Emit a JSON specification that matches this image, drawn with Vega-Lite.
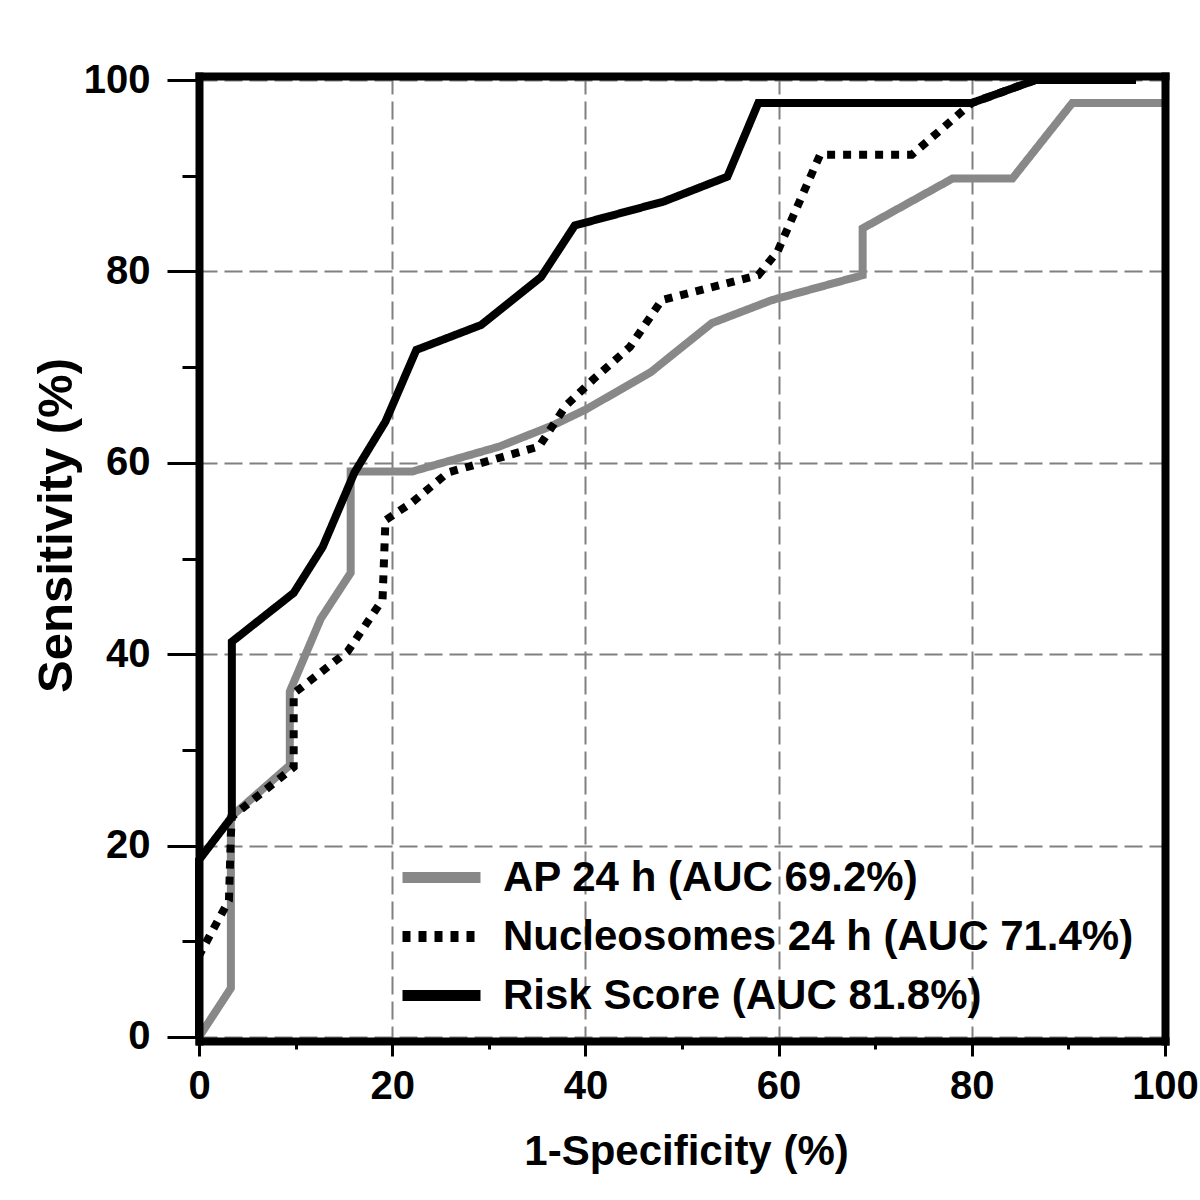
{
  "$schema": "https://vega.github.io/schema/vega-lite/v6.json",
  "width": 966,
  "height": 965,
  "autosize": {"type": "none"},
  "padding": {"left": 199, "top": 76, "right": 35, "bottom": 159},
  "background": "white",
  "config": {
    "view": {"stroke": null},
    "font": "Liberation Sans"
  },
  "data": {
    "values": [
      {"s": "AP 24 h (AUC 69.2%)", "i": 0, "x": 0, "y": 0},
      {"s": "AP 24 h (AUC 69.2%)", "i": 1, "x": 3.3, "y": 5.1},
      {"s": "AP 24 h (AUC 69.2%)", "i": 2, "x": 3.3, "y": 23.0},
      {"s": "AP 24 h (AUC 69.2%)", "i": 3, "x": 9.4, "y": 28.4},
      {"s": "AP 24 h (AUC 69.2%)", "i": 4, "x": 9.4, "y": 36.1},
      {"s": "AP 24 h (AUC 69.2%)", "i": 5, "x": 12.6, "y": 43.7},
      {"s": "AP 24 h (AUC 69.2%)", "i": 6, "x": 15.7, "y": 48.5},
      {"s": "AP 24 h (AUC 69.2%)", "i": 7, "x": 15.7, "y": 59.1},
      {"s": "AP 24 h (AUC 69.2%)", "i": 8, "x": 22.1, "y": 59.1},
      {"s": "AP 24 h (AUC 69.2%)", "i": 9, "x": 31.1, "y": 61.7},
      {"s": "AP 24 h (AUC 69.2%)", "i": 10, "x": 36.6, "y": 63.9},
      {"s": "AP 24 h (AUC 69.2%)", "i": 11, "x": 40.1, "y": 65.6},
      {"s": "AP 24 h (AUC 69.2%)", "i": 12, "x": 46.8, "y": 69.5},
      {"s": "AP 24 h (AUC 69.2%)", "i": 13, "x": 53.1, "y": 74.6},
      {"s": "AP 24 h (AUC 69.2%)", "i": 14, "x": 59.3, "y": 77.0},
      {"s": "AP 24 h (AUC 69.2%)", "i": 15, "x": 68.7, "y": 79.6},
      {"s": "AP 24 h (AUC 69.2%)", "i": 16, "x": 68.7, "y": 84.5},
      {"s": "AP 24 h (AUC 69.2%)", "i": 17, "x": 78.0, "y": 89.7},
      {"s": "AP 24 h (AUC 69.2%)", "i": 18, "x": 84.2, "y": 89.7},
      {"s": "AP 24 h (AUC 69.2%)", "i": 19, "x": 90.4, "y": 97.6},
      {"s": "AP 24 h (AUC 69.2%)", "i": 20, "x": 100, "y": 97.6},

      {"s": "Nucleosomes 24 h (AUC 71.4%)", "i": 0, "x": 0, "y": 0},
      {"s": "Nucleosomes 24 h (AUC 71.4%)", "i": 1, "x": 0, "y": 8.5},
      {"s": "Nucleosomes 24 h (AUC 71.4%)", "i": 2, "x": 3.1, "y": 14.3},
      {"s": "Nucleosomes 24 h (AUC 71.4%)", "i": 3, "x": 3.3, "y": 21.1},
      {"s": "Nucleosomes 24 h (AUC 71.4%)", "i": 4, "x": 3.4, "y": 23.0},
      {"s": "Nucleosomes 24 h (AUC 71.4%)", "i": 5, "x": 9.8, "y": 28.2},
      {"s": "Nucleosomes 24 h (AUC 71.4%)", "i": 6, "x": 9.8, "y": 35.9},
      {"s": "Nucleosomes 24 h (AUC 71.4%)", "i": 7, "x": 15.4, "y": 40.3},
      {"s": "Nucleosomes 24 h (AUC 71.4%)", "i": 8, "x": 19.0, "y": 45.7},
      {"s": "Nucleosomes 24 h (AUC 71.4%)", "i": 9, "x": 19.3, "y": 54.0},
      {"s": "Nucleosomes 24 h (AUC 71.4%)", "i": 10, "x": 22.1, "y": 55.9},
      {"s": "Nucleosomes 24 h (AUC 71.4%)", "i": 11, "x": 25.8, "y": 59.0},
      {"s": "Nucleosomes 24 h (AUC 71.4%)", "i": 12, "x": 35.2, "y": 61.7},
      {"s": "Nucleosomes 24 h (AUC 71.4%)", "i": 13, "x": 38.0, "y": 66.0},
      {"s": "Nucleosomes 24 h (AUC 71.4%)", "i": 14, "x": 40.8, "y": 68.7},
      {"s": "Nucleosomes 24 h (AUC 71.4%)", "i": 15, "x": 44.6, "y": 72.1},
      {"s": "Nucleosomes 24 h (AUC 71.4%)", "i": 16, "x": 47.9, "y": 77.0},
      {"s": "Nucleosomes 24 h (AUC 71.4%)", "i": 17, "x": 57.9, "y": 79.6},
      {"s": "Nucleosomes 24 h (AUC 71.4%)", "i": 18, "x": 59.9, "y": 82.1},
      {"s": "Nucleosomes 24 h (AUC 71.4%)", "i": 19, "x": 64.3, "y": 92.2},
      {"s": "Nucleosomes 24 h (AUC 71.4%)", "i": 20, "x": 73.8, "y": 92.2},
      {"s": "Nucleosomes 24 h (AUC 71.4%)", "i": 21, "x": 79.2, "y": 96.9},
      {"s": "Nucleosomes 24 h (AUC 71.4%)", "i": 22, "x": 80.0, "y": 97.6},
      {"s": "Nucleosomes 24 h (AUC 71.4%)", "i": 23, "x": 86.6, "y": 100},

      {"s": "Risk Score (AUC 81.8%)", "i": 0, "x": 0, "y": 0},
      {"s": "Risk Score (AUC 81.8%)", "i": 1, "x": 0, "y": 18.5},
      {"s": "Risk Score (AUC 81.8%)", "i": 2, "x": 3.4, "y": 23.0},
      {"s": "Risk Score (AUC 81.8%)", "i": 3, "x": 3.4, "y": 41.3},
      {"s": "Risk Score (AUC 81.8%)", "i": 4, "x": 9.8, "y": 46.4},
      {"s": "Risk Score (AUC 81.8%)", "i": 5, "x": 12.8, "y": 51.2},
      {"s": "Risk Score (AUC 81.8%)", "i": 6, "x": 16.1, "y": 59.0},
      {"s": "Risk Score (AUC 81.8%)", "i": 7, "x": 19.3, "y": 64.3},
      {"s": "Risk Score (AUC 81.8%)", "i": 8, "x": 22.5, "y": 71.8},
      {"s": "Risk Score (AUC 81.8%)", "i": 9, "x": 29.2, "y": 74.4},
      {"s": "Risk Score (AUC 81.8%)", "i": 10, "x": 35.4, "y": 79.4},
      {"s": "Risk Score (AUC 81.8%)", "i": 11, "x": 38.9, "y": 84.8},
      {"s": "Risk Score (AUC 81.8%)", "i": 12, "x": 48.1, "y": 87.3},
      {"s": "Risk Score (AUC 81.8%)", "i": 13, "x": 54.7, "y": 89.9},
      {"s": "Risk Score (AUC 81.8%)", "i": 14, "x": 57.9, "y": 97.6},
      {"s": "Risk Score (AUC 81.8%)", "i": 15, "x": 80.0, "y": 97.6},
      {"s": "Risk Score (AUC 81.8%)", "i": 16, "x": 86.6, "y": 100},
      {"s": "Risk Score (AUC 81.8%)", "i": 17, "x": 97, "y": 100}
    ]
  },
  "layer": [
    {
      "mark": {"type": "line", "strokeWidth": 8, "strokeCap": "butt"},
      "encoding": {
        "x": {
          "field": "x", "type": "quantitative",
          "scale": {"domain": [0, 100], "nice": false, "zero": false},
          "axis": {
            "orient": "bottom", "values": [0, 20, 40, 60, 80, 100], "format": "d",
            "domain": false, "grid": true, "gridColor": "#808080", "gridDash": [18, 7], "gridWidth": 2,
            "tickSize": 15, "tickWidth": 3, "tickColor": "black",
            "labelFont": "Liberation Sans", "labelFontWeight": "bold", "labelFontSize": 40, "labelColor": "black",
            "labelPadding": 10, "labelFlush": false, "labelOverlap": false,
            "title": "1-Specificity (%)", "titleFont": "Liberation Sans", "titleFontWeight": "bold",
            "titleFontSize": 42, "titleColor": "black", "titleX": 487, "titleY": 123,
            "titleBaseline": "alphabetic", "titleAlign": "center", "zindex": 0
          }
        },
        "y": {
          "field": "y", "type": "quantitative",
          "scale": {"domain": [-0.42, 100.42], "nice": false, "zero": false},
          "axis": {
            "orient": "left", "values": [0, 20, 40, 60, 80, 100], "format": "d",
            "domain": false, "grid": true, "gridColor": "#808080", "gridDash": [18, 7], "gridWidth": 2,
            "tickSize": 32, "tickWidth": 3, "tickColor": "black",
            "labelFont": "Liberation Sans", "labelFontWeight": "bold", "labelFontSize": 40, "labelColor": "black",
            "labelPadding": 17, "labelOverlap": false,
            "title": "Sensitivity (%)", "titleFont": "Liberation Sans", "titleFontWeight": "bold",
            "titleFontSize": 49, "titleColor": "black", "titleX": -128, "titleY": 449,
            "titleBaseline": "alphabetic", "titleAlign": "center", "titleAngle": -90, "zindex": 0
          }
        },
        "color": {
          "field": "s", "type": "nominal",
          "scale": {
            "domain": ["AP 24 h (AUC 69.2%)", "Nucleosomes 24 h (AUC 71.4%)", "Risk Score (AUC 81.8%)"],
            "range": ["#888888", "#000000", "#000000"]
          },
          "legend": {
            "title": null, "orient": "none", "legendX": 211, "legendY": 770,
            "symbolType": "M-1.5,0H1.5", "symbolSize": 2704, "symbolStrokeWidth": 11,
            "labelFont": "Liberation Sans", "labelFontWeight": "bold", "labelFontSize": 42,
            "labelColor": "black", "labelLimit": 1000, "labelOffset": 30, "rowPadding": 5, "padding": 0
          }
        },
        "strokeDash": {
          "field": "s", "type": "nominal",
          "scale": {
            "domain": ["AP 24 h (AUC 69.2%)", "Nucleosomes 24 h (AUC 71.4%)", "Risk Score (AUC 81.8%)"],
            "range": [[1, 0], [8, 8], [1, 0]]
          },
          "legend": {
            "title": null, "orient": "none", "legendX": 211, "legendY": 770,
            "symbolType": "M-1.5,0H1.5", "symbolSize": 2704, "symbolStrokeWidth": 11,
            "labelFont": "Liberation Sans", "labelFontWeight": "bold", "labelFontSize": 42,
            "labelColor": "black", "labelLimit": 1000, "labelOffset": 30, "rowPadding": 5, "padding": 0
          }
        },
        "order": {"field": "i", "type": "quantitative"}
      }
    },
    {
      "mark": {"type": "point", "opacity": 0},
      "encoding": {
        "x": {
          "field": "x", "type": "quantitative",
          "axis": {
            "orient": "bottom", "values": [10, 30, 50, 70, 90], "labels": false, "grid": false,
            "domain": false, "tickSize": 8, "tickWidth": 3, "tickColor": "black", "title": null
          }
        },
        "y": {
          "field": "y", "type": "quantitative",
          "axis": {
            "orient": "left", "values": [10, 30, 50, 70, 90], "labels": false, "grid": false,
            "domain": false, "tickSize": 17, "tickWidth": 3, "tickColor": "black", "title": null
          }
        }
      }
    },
    {
      "mark": {"type": "point", "opacity": 0},
      "encoding": {
        "x": {
          "field": "x", "type": "quantitative",
          "axis": {
            "orient": "bottom", "labels": false, "grid": false, "ticks": false, "title": null,
            "domain": true, "domainWidth": 8, "domainColor": "black", "domainCap": "square", "zindex": 2
          }
        },
        "y": {
          "field": "y", "type": "quantitative",
          "axis": {
            "orient": "left", "labels": false, "grid": false, "ticks": false, "title": null,
            "domain": true, "domainWidth": 8, "domainColor": "black", "domainCap": "square", "zindex": 2
          }
        }
      }
    },
    {
      "mark": {"type": "point", "opacity": 0},
      "encoding": {
        "x": {
          "field": "x", "type": "quantitative",
          "axis": {
            "orient": "top", "labels": false, "grid": false, "ticks": false, "title": null,
            "domain": true, "domainWidth": 8, "domainColor": "black", "domainCap": "square", "zindex": 2
          }
        },
        "y": {
          "field": "y", "type": "quantitative",
          "axis": {
            "orient": "right", "labels": false, "grid": false, "ticks": false, "title": null,
            "domain": true, "domainWidth": 8, "domainColor": "black", "domainCap": "square", "zindex": 2
          }
        }
      }
    }
  ],
  "resolve": {"axis": {"x": "independent", "y": "independent"}}
}
